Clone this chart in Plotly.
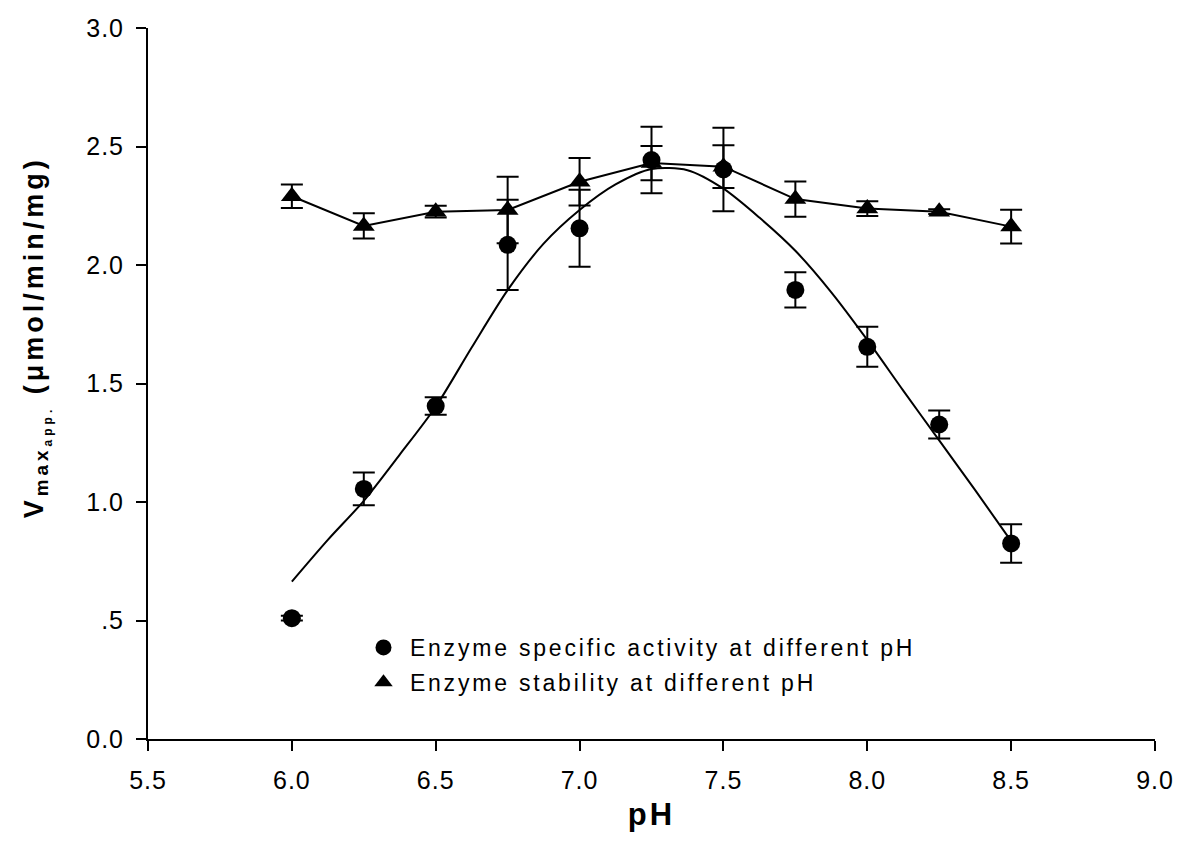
import plotly.graph_objects as go

# ---- data ----
ph = [6.0, 6.25, 6.5, 6.75, 7.0, 7.25, 7.5, 7.75, 8.0, 8.25, 8.5]
activity = [0.51, 1.055, 1.405, 2.085, 2.155, 2.443, 2.403, 1.895, 1.655, 1.327, 0.825]
activity_err = [0.01, 0.069, 0.037, 0.19, 0.162, 0.14, 0.176, 0.074, 0.084, 0.059, 0.081]
stability = [2.29, 2.165, 2.225, 2.232, 2.351, 2.43, 2.415, 2.278, 2.238, 2.225, 2.162]
stability_err = [0.05, 0.053, 0.025, 0.14, 0.10, 0.072, 0.09, 0.074, 0.031, 0.01, 0.071]

# fitted curve through activity
fit_ph = [6.0, 6.125, 6.25, 6.375, 6.5, 6.625, 6.75, 6.875, 7.0, 7.125, 7.25, 7.375,
          7.5, 7.625, 7.75, 7.875, 8.0, 8.125, 8.25, 8.375, 8.5]
fit_val = [0.664, 0.84, 1.005, 1.20, 1.402, 1.652, 1.894, 2.09, 2.232, 2.34, 2.405, 2.40,
           2.322, 2.20, 2.06, 1.885, 1.684, 1.47, 1.26, 1.05, 0.835]

x_ticks = [5.5, 6.0, 6.5, 7.0, 7.5, 8.0, 8.5, 9.0]
x_ticktext = ["5.5", "6.0", "6.5", "7.0", "7.5", "8.0", "8.5", "9.0"]
y_ticks = [0.0, 0.5, 1.0, 1.5, 2.0, 2.5, 3.0]
y_ticktext = ["0.0", ".5", "1.0", "1.5", "2.0", "2.5", "3.0"]

legend_names = ["Enzyme specific activity at different pH", "Enzyme stability at different pH"]

FONT = "Liberation Sans, Arial, sans-serif"


def spaced(t, px):
    return f"<span style='letter-spacing:{px}px'>{t}</span>"


fig = go.Figure()

fig.add_trace(go.Scatter(
    x=fit_ph, y=fit_val, mode="lines",
    line=dict(color="black", width=2, shape="spline", smoothing=0.8),
    showlegend=False, hoverinfo="skip"))

fig.add_trace(go.Scatter(
    x=ph, y=stability, mode="lines+markers",
    line=dict(color="black", width=2),
    marker=dict(symbol="triangle-up", size=19, color="black"),
    error_y=dict(type="data", array=stability_err, visible=True, color="black", thickness=2, width=11),
    showlegend=False))

fig.add_trace(go.Scatter(
    x=ph, y=activity, mode="markers",
    marker=dict(symbol="circle", size=18, color="black"),
    error_y=dict(type="data", array=activity_err, visible=True, color="black", thickness=2, width=11),
    showlegend=False))

# legend-only entries
fig.add_trace(go.Scatter(x=[None], y=[None], mode="markers",
                         name="&nbsp;" + spaced(legend_names[0], 2.8),
                         marker=dict(symbol="circle", size=17, color="black"), legendgroup="a"))
fig.add_trace(go.Scatter(x=[None], y=[None], mode="markers",
                         name="&nbsp;" + spaced(legend_names[1], 2.8),
                         marker=dict(symbol="triangle-up", size=18, color="black"), legendgroup="b"))

fig.update_layout(
    width=1167, height=841,
    margin=dict(l=140, r=20, t=20, b=110),
    paper_bgcolor="white", plot_bgcolor="white",
    font=dict(family=FONT, color="black", size=23),
    showlegend=True,
    legend=dict(x=0.214, y=0.159, xanchor="left", yanchor="top",
                bgcolor="rgba(0,0,0,0)", font=dict(size=23, family=FONT),
                tracegroupgap=2, itemwidth=30),
    xaxis=dict(range=[5.5, 9.0], tickvals=x_ticks, ticktext=[spaced(t, 1) for t in x_ticktext],
               showline=True, linecolor="black", linewidth=2, showgrid=False, zeroline=False,
               ticks="outside", ticklen=10, tickwidth=2, tickcolor="black",
               ticklabelstandoff=8, automargin=False, ticklabeloverflow="allow",
               tickfont=dict(size=25, family=FONT),
               title=dict(text="<b>" + spaced("pH", 3) + "</b>", font=dict(size=31, family=FONT), standoff=10)),
    yaxis=dict(range=[0, 3.0], tickvals=y_ticks, ticktext=[spaced(t, 1) for t in y_ticktext],
               showline=True, linecolor="black", linewidth=2, showgrid=False, zeroline=False,
               ticks="outside", ticklen=10, tickwidth=2, tickcolor="black",
               ticklabelstandoff=7, automargin=False, ticklabeloverflow="allow",
               tickfont=dict(size=25, family=FONT)),
)

fig.add_annotation(
    xref="paper", yref="paper", x=0, y=0.565, xshift=-111,
    xanchor="center", yanchor="middle", textangle=-90, showarrow=False,
    text="<b><span style='letter-spacing:4px'>V<sub>max<sub><span style='font-size:12px'>app.</span></sub></sub> (μmol/min/mg)</span></b>",
    font=dict(size=27, family=FONT, color="black"))

fig.write_html("out.html")
